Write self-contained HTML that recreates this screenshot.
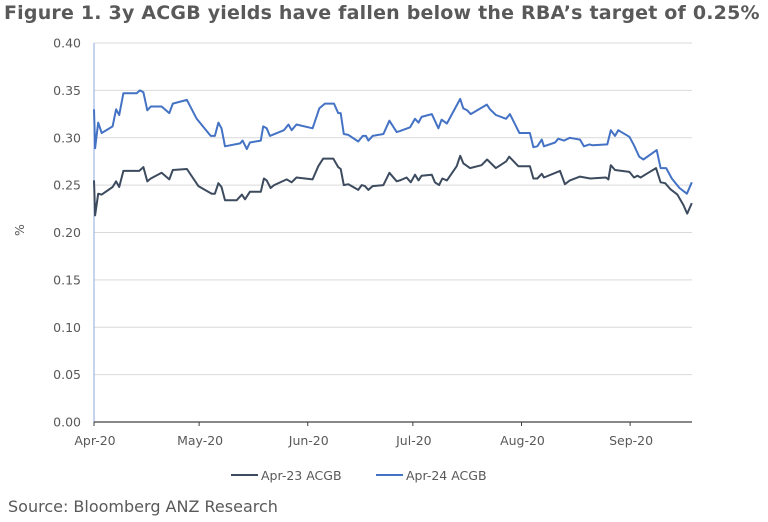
<!DOCTYPE html>
<html><head><meta charset="utf-8">
<style>
html,body{margin:0;padding:0;background:#fff;}
body{width:768px;height:522px;overflow:hidden;position:relative;font-family:"DejaVu Sans","Liberation Sans",sans-serif;}
#title{position:absolute;left:4px;top:2px;font-size:19px;font-weight:bold;color:#595959;white-space:nowrap;letter-spacing:0.2px;}
#source{position:absolute;left:8px;top:497px;font-size:16px;color:#595959;white-space:nowrap;}
svg{position:absolute;left:0;top:0;}
text{font-family:"DejaVu Sans","Liberation Sans",sans-serif;fill:#595959;}
</style></head><body>
<div id="title">Figure 1. 3y ACGB yields have fallen below the RBA’s target of 0.25%</div>
<svg id="chart" width="768" height="522"></svg>
<div id="source">Source: Bloomberg ANZ Research</div>
<script>
const monthLabels=["Apr-20","May-20","Jun-20","Jul-20","Aug-20","Sep-20"];
const monthDays=[0,30,61,91,122,153];
const yTicks=[0,0.05,0.10,0.15,0.20,0.25,0.30,0.35,0.40];
const blueDays=[0,0.3,1.2,2.2,5.3,6.3,7.2,8.4,12.2,13.1,14.1,15.2,16.2,19.3,21.5,22.5,26.5,29.3,33.3,34.5,35.5,36.4,37.4,41.7,42.4,43.6,44.5,47.6,48.3,49.3,50.2,54.2,55.5,56.4,57.8,62.4,64.3,65.9,68.5,69.7,70.4,71.3,72.6,75.4,76.7,77.6,78.3,79.5,82.6,84.3,86.4,87.3,90.2,91.6,92.6,93.5,96.4,98.3,99.2,100.7,104.5,105.4,106.5,107.5,112.1,113.0,114.7,117.6,118.7,121.4,124.4,125.4,126.5,127.8,128.4,131.6,132.5,134.1,135.8,138.7,139.8,141.4,142.3,146.5,147.5,148.7,149.6,152.8,154.1,155.6,156.8,160.6,161.7,163.3,164.9,167.1,169.2,170.6];
const blueVals=[0.330,0.289,0.316,0.305,0.312,0.330,0.324,0.347,0.347,0.350,0.348,0.329,0.333,0.333,0.326,0.336,0.340,0.320,0.302,0.302,0.316,0.310,0.291,0.294,0.297,0.288,0.295,0.297,0.312,0.310,0.302,0.308,0.314,0.308,0.314,0.310,0.331,0.336,0.336,0.326,0.326,0.304,0.303,0.296,0.302,0.302,0.297,0.302,0.304,0.318,0.306,0.307,0.311,0.320,0.316,0.322,0.325,0.310,0.319,0.315,0.341,0.331,0.329,0.325,0.335,0.330,0.324,0.320,0.325,0.305,0.305,0.290,0.291,0.298,0.291,0.295,0.299,0.297,0.300,0.298,0.291,0.293,0.292,0.293,0.308,0.302,0.308,0.301,0.292,0.280,0.277,0.287,0.268,0.268,0.257,0.247,0.241,0.253];
const darkDays=[0,0.3,1.2,2.2,5.3,6.3,7.2,8.4,12.9,14.1,15.2,16.2,19.3,21.5,22.5,26.5,29.8,33.6,34.5,35.5,36.4,37.4,40.7,42.2,43.1,44.5,47.6,48.5,49.3,50.4,51.4,55.0,56.4,57.8,62.4,64.0,65.4,68.3,69.7,70.4,71.3,72.6,75.4,76.4,77.3,78.3,79.5,82.6,84.3,86.4,87.3,89.2,90.4,91.6,92.6,93.5,96.4,97.3,98.5,99.4,100.7,103.5,104.5,105.4,107.3,110.6,112.2,114.7,117.6,118.5,121.1,124.4,125.4,126.5,127.8,128.4,133.0,134.4,135.8,138.7,141.6,146.1,146.8,147.5,148.7,152.8,154.1,155.1,156.0,157.7,160.4,161.7,163.0,164.4,166.5,168.2,169.3,170.6];
const darkVals=[0.255,0.218,0.241,0.240,0.248,0.254,0.248,0.265,0.265,0.269,0.254,0.257,0.263,0.256,0.266,0.267,0.249,0.241,0.241,0.252,0.248,0.234,0.234,0.240,0.235,0.243,0.243,0.257,0.255,0.247,0.250,0.256,0.253,0.258,0.256,0.270,0.278,0.278,0.269,0.267,0.250,0.251,0.245,0.250,0.249,0.245,0.249,0.250,0.263,0.254,0.255,0.258,0.253,0.261,0.255,0.260,0.261,0.253,0.250,0.257,0.255,0.270,0.281,0.273,0.268,0.271,0.277,0.268,0.275,0.280,0.270,0.270,0.257,0.257,0.262,0.258,0.265,0.251,0.255,0.259,0.257,0.258,0.256,0.271,0.266,0.264,0.258,0.260,0.258,0.262,0.268,0.253,0.252,0.246,0.240,0.229,0.220,0.231];

const NS="http://www.w3.org/2000/svg";
const svg=document.getElementById('chart');
const X0=94,DAYPX=3.504,XEND=692,Y0=422,Y1=43;
function xs(d){return X0+d*DAYPX;}
function ys(v){return Y0-(v/0.40)*(Y0-Y1);}
function mk(tag,attrs){const e=document.createElementNS(NS,tag);for(const k in attrs)e.setAttribute(k,attrs[k]);svg.appendChild(e);return e;}

yTicks.forEach((v,i)=>{
  if(v>0){
    const g=mk('line',{x1:X0,x2:XEND,y1:ys(v),y2:ys(v),stroke:'#d9d9d9','stroke-width':1});
    
    
  }
  const t=mk('text',{x:81,y:ys(v)+4.5,'text-anchor':'end','font-size':12.5});
  t.textContent=v.toFixed(2);
  
  
});
const ya=mk('line',{x1:X0,x2:X0,y1:Y1,y2:Y0,stroke:'#8eaadb','stroke-width':1});


const xa=mk('line',{x1:X0,x2:XEND,y1:Y0,y2:Y0,stroke:'#404040','stroke-width':1.2});


monthDays.forEach((d,i)=>{
  const tk=mk('line',{x1:xs(d),x2:xs(d),y1:Y0,y2:Y0+4,stroke:'#404040','stroke-width':1});
  
  
  const t=mk('text',{x:xs(d)+1,y:445,'text-anchor':'middle','font-size':12.5});
  t.textContent=monthLabels[i];
  
  
});
const yt=mk('text',{x:24,y:230,'text-anchor':'middle','font-size':12.5,transform:'rotate(-90 24 230)'});
yt.textContent='%';



function series(days,vals,color,name){
  const pts=days.map((d,i)=>xs(d).toFixed(1)+','+ys(vals[i]).toFixed(1)).join(' ');
  const p=mk('polyline',{points:pts,fill:'none',stroke:color,'stroke-width':2,'stroke-linejoin':'round'});
  
  
}
series(darkDays,darkVals,'#3d4b5f','series-apr-23-acgb');
series(blueDays,blueVals,'#4472c4','series-apr-24-acgb');

const l1=mk('line',{x1:231,x2:258,y1:475,y2:475,stroke:'#3d4b5f','stroke-width':2});


const t1=mk('text',{x:261,y:480,'font-size':12.5});
t1.textContent='Apr-23 ACGB';


const l2=mk('line',{x1:376,x2:403,y1:475,y2:475,stroke:'#4472c4','stroke-width':2});


const t2=mk('text',{x:406,y:480,'font-size':12.5});
t2.textContent='Apr-24 ACGB';


</script>
</body></html>
